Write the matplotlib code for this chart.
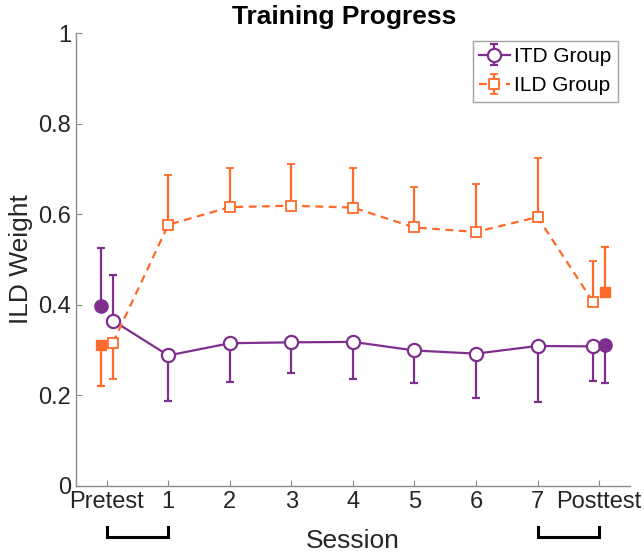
import matplotlib
matplotlib.use("Agg")
import matplotlib.pyplot as plt
import numpy as np

plt.rcParams['font.family'] = ['Liberation Sans', 'DejaVu Sans']

# sessions: Pretest, 1..7, Posttest
session_labels = ["Pretest", "1", "2", "3", "4", "5", "6", "7", "Posttest"]
sessions = np.arange(len(session_labels))

# open markers (connected by lines)
itd_mean = [0.365, 0.288, 0.315, 0.317, 0.318, 0.299, 0.292, 0.309, 0.308]
itd_err_lo = [0.0, 0.100, 0.085, 0.067, 0.082, 0.073, 0.097, 0.125, 0.077]
itd_err_hi = [0.100, 0, 0, 0, 0, 0, 0, 0, 0]

ild_mean = [0.316, 0.577, 0.616, 0.619, 0.615, 0.571, 0.561, 0.594, 0.407]
ild_err_lo = [0.079, 0, 0, 0, 0, 0, 0, 0, 0]
ild_err_hi = [0.0, 0.110, 0.086, 0.092, 0.087, 0.089, 0.105, 0.130, 0.090]

# filled markers (pretest / posttest of the other block)
itd_filled = [0.398, 0.311]
itd_filled_lo = [0.0, 0.085]
itd_filled_hi = [0.128, 0.0]

ild_filled = [0.311, 0.429]
ild_filled_lo = [0.091, 0.0]
ild_filled_hi = [0.0, 0.098]

brackets = [(0, 1), (7, 8)]

purple = '#7E2F8E'
orange = '#FF6929'
gray = '#8c8c8c'
dark = '#262626'
off = 0.1

# open markers sit right of pretest, left of posttest
x_open = sessions.astype(float)
x_open[0] += off
x_open[-1] -= off
x_filled = np.array([sessions[0] - off, sessions[-1] + off])

fig = plt.figure(figsize=(6.44, 5.57), dpi=100)
ax = fig.add_axes([0.118, 0.128, 0.860, 0.812])

ax.errorbar(x_open, itd_mean, yerr=[itd_err_lo, itd_err_hi], color=purple, lw=1.6,
            marker='o', ms=9.5, mfc='white', mec=purple, mew=1.6,
            capsize=3, capthick=1.6, elinewidth=1.6, label='ITD Group', zorder=3)
ax.errorbar(x_open, ild_mean, yerr=[ild_err_lo, ild_err_hi], color=orange, lw=1.6,
            ls=(0, (3.5, 2.5)), marker='s', ms=7.5, mfc='white', mec=orange, mew=1.3,
            capsize=3, capthick=1.6, elinewidth=1.6, label='ILD Group', zorder=3)

ax.errorbar(x_filled, itd_filled, yerr=[itd_filled_lo, itd_filled_hi], color=purple,
            fmt='o', ms=9.5, mfc=purple, mec=purple, capsize=3, capthick=1.6,
            elinewidth=1.6, zorder=3)
ax.errorbar(x_filled, ild_filled, yerr=[ild_filled_lo, ild_filled_hi], color=orange,
            fmt='s', ms=7.5, mfc=orange, mec=orange, capsize=3, capthick=1.6,
            elinewidth=1.6, zorder=3)

# brackets under the x axis
for a, b in brackets:
    ax.plot([a, a, b, b], [-0.091, -0.114, -0.114, -0.091], color='black', lw=2.2,
            clip_on=False, solid_joinstyle='miter')

ax.set_xlim(-0.5, 8.5)
ax.set_ylim(0, 1)
ax.set_xticks(sessions)
ax.set_xticklabels(session_labels)
ax.set_yticks([0, 0.2, 0.4, 0.6, 0.8, 1])
ax.set_yticklabels(['0', '0.2', '0.4', '0.6', '0.8', '1'])

for s in ['top', 'right']:
    ax.spines[s].set_visible(False)
for s in ['left', 'bottom']:
    ax.spines[s].set_color(gray)
    ax.spines[s].set_linewidth(1.0)
ax.tick_params(direction='in', length=4, color=gray, labelcolor=dark, labelsize=17)

ax.set_xlabel('Session', fontsize=19, color=dark, labelpad=12)
ax.set_ylabel('ILD Weight', fontsize=19, color=dark, labelpad=4)
ax.set_title('Training Progress', fontsize=19, fontweight='bold', pad=7, x=0.485)

leg = ax.legend(loc='upper right', fontsize=15, frameon=True, fancybox=False,
                edgecolor=gray, handlelength=1.5, handletextpad=0.2,
                borderpad=0.3, labelspacing=0.5, bbox_to_anchor=(0.997, 1.007))
leg.get_frame().set_linewidth(1.0)

fig.savefig('out.png', dpi=100)
